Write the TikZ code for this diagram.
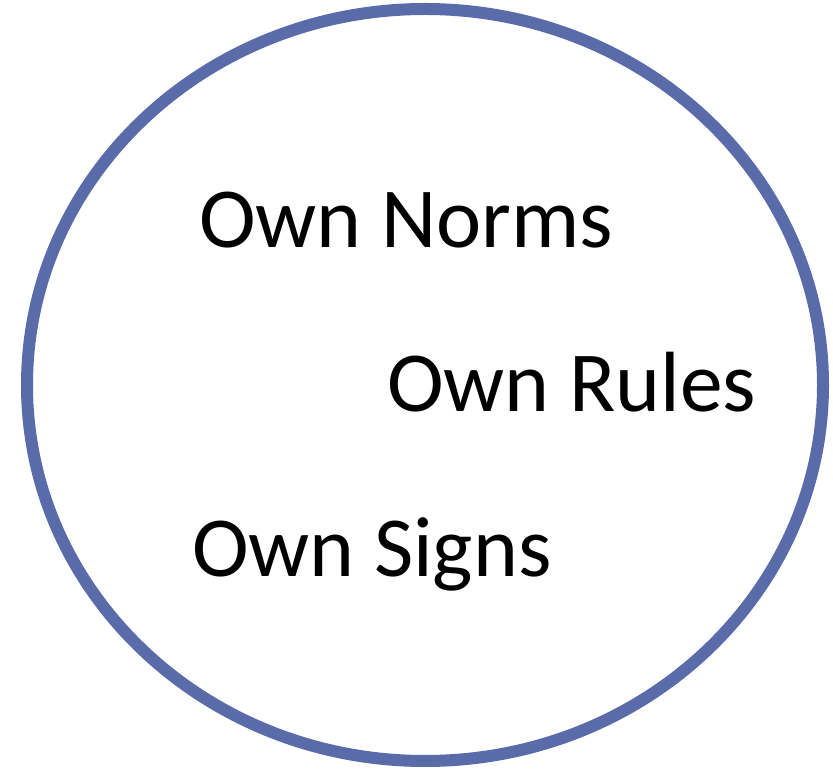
\documentclass[tikz,border=0pt]{standalone}
\usepackage{fontspec}
\usetikzlibrary{shapes.geometric}
\setmainfont{Carlito}
\definecolor{ringblue}{RGB}{90,107,170}
\begin{document}
\begin{tikzpicture}[x=1pt,y=1pt,
  lbl/.style={anchor=base west,inner sep=0pt,font=\fontsize{85.5}{100}\selectfont}]
\useasboundingbox (0,0) rectangle (833,771);
\fill[black!18] (425,381) ellipse [x radius=399,y radius=376];
\node[draw=ringblue,line width=12pt,fill=white,ellipse,inner sep=0pt,
      minimum width=796pt,minimum height=752pt] (ring) at (425,386) {};
\node[lbl] (norms) at (199,523) {Own Norms};
\node[lbl] (rules) at (387,359) {Own Rules};
\node[lbl] (signs) at (192,194) {Own Signs};
\end{tikzpicture}
\end{document}
